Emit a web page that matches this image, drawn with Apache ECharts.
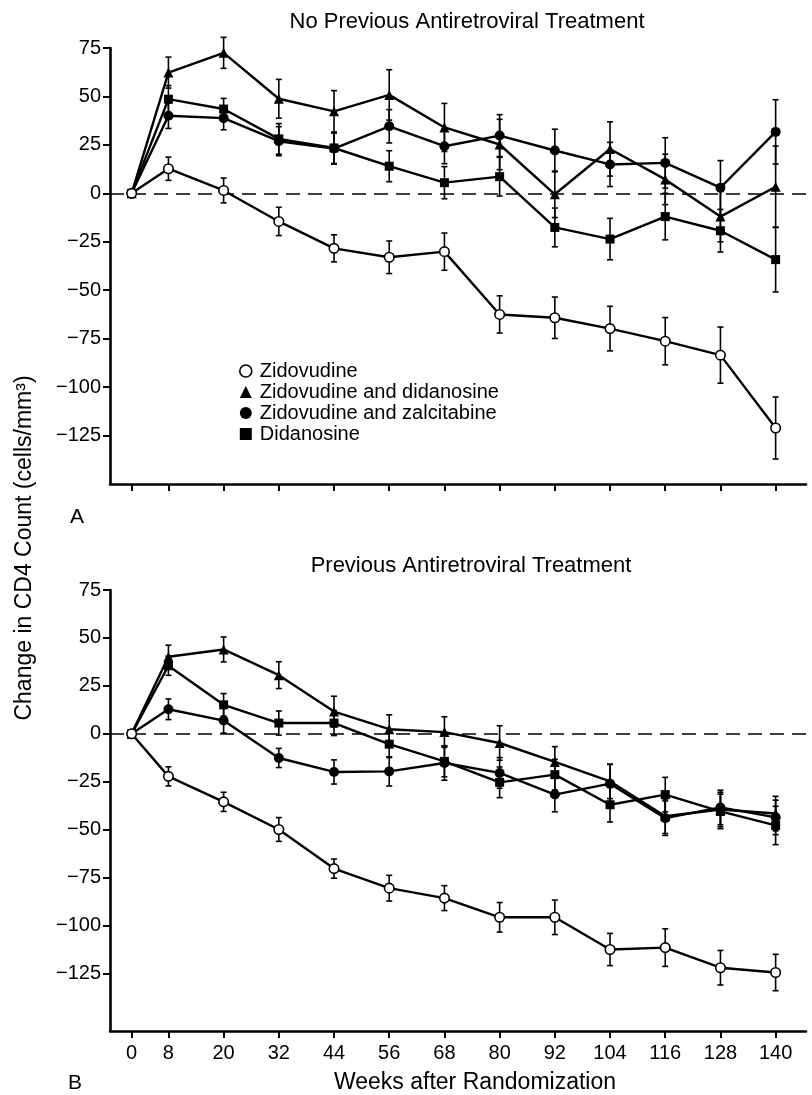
<!DOCTYPE html>
<html>
<head>
<meta charset="utf-8">
<title>CD4 change by treatment</title>
<script src="https://cdn.jsdelivr.net/npm/echarts@6/dist/echarts.min.js"></script>
<style>
  html, body { margin: 0; padding: 0; background: #fff; }
  #chart { width: 812px; height: 1095px; }
</style>
</head>
<body>
<div id="chart"></div>
<script>
// weeks after randomization
const weeks = [0, 8, 20, 32, 44, 56, 68, 80, 92, 104, 116, 128, 140];
const yTicks = [75, 50, 25, 0, -25, -50, -75, -100, -125];

// panel A: no previous antiretroviral treatment
const aZdv      = [0, 12.7, 1.5, -14.5, -28.4, -33.0, -30.1, -62.5, -64.2, -69.8, -76.3, -83.5, -121.1];
const aZdvErr   = [0, 6, 6.4, 7.3, 7, 8.4, 9.6, 9.6, 10.7, 11.5, 12.2, 14.5, 16];
const aZdvDdi   = [0, 62.3, 72.5, 48.8, 42.3, 50.8, 34.0, 25.2, -0.5, 22.9, 7.2, -12.0, 3.4];
const aZdvDdiErr= [0, 8, 8, 10, 10.7, 13, 12.4, 13, 12, 14, 13, 13, 21];
const aZdvDdc   = [0, 40.0, 38.8, 26.9, 23.1, 34.6, 24.3, 29.8, 22.1, 14.9, 15.7, 2.9, 31.7];
const aZdvDdcErr= [0, 6.5, 6, 7.5, 8, 8.6, 9, 10.8, 11, 11.4, 13, 14, 16.6];
const aDdi      = [0, 48.6, 43.5, 28.1, 23.4, 14.0, 5.5, 8.6, -17.6, -23.6, -12.0, -19.3, -34.2];
const aDdiErr   = [0, 7, 5.5, 7.9, 8, 8, 8.3, 10, 10, 10.7, 12, 11, 16.7];

// panel B: previous antiretroviral treatment
const bZdv      = [0, -22.2, -35.5, -49.9, -70.3, -80.5, -85.7, -95.7, -95.7, -112.5, -111.5, -122, -124.5];
const bZdvErr   = [0, 5, 5, 6.2, 5, 6.7, 6.5, 7.7, 9, 8.4, 9.8, 9, 9.5];
const bZdvDdi   = [0, 40.2, 44.0, 30.6, 11.6, 2.4, 0.9, -4.8, -14.7, -24.8, -43, -39.5, -41.6];
const bZdvDdiErr= [0, 6, 6.5, 7, 8, 7.5, 8, 9, 8, 9, 9, 9, 9];
const bZdvDdc   = [0, 12.8, 6.9, -12.6, -19.9, -19.6, -15.2, -20.4, -31.7, -26, -44, -38.4, -43.6];
const bZdvDdcErr= [0, 5.4, 6.5, 5, 6.3, 7.6, 9, 8, 9, 10, 9, 9, 9];
const bDdi      = [0, 35.5, 15.1, 5.6, 5.6, -5.4, -14.4, -25.3, -21.3, -37, -31.7, -40.5, -47.8];
const bDdiErr   = [0, 5, 5.9, 6.3, 6.5, 7, 8, 8, 8, 9, 9, 9, 10];

const names = ['Zidovudine', 'Zidovudine and didanosine', 'Zidovudine and zalcitabine', 'Didanosine'];
const font = 'Liberation Sans';

const styles = [
    {symbol: 'circle', symbolSize: 9.5, itemStyle: {color: '#fff', borderColor: '#000', borderWidth: 1.6}},
    {symbol: 'triangle', symbolSize: 10, itemStyle: {color: '#000', borderColor: '#000', borderWidth: 0}},
    {symbol: 'circle', symbolSize: 10, itemStyle: {color: '#000', borderColor: '#000', borderWidth: 0}},
    {symbol: 'rect', symbolSize: 9, itemStyle: {color: '#000', borderColor: '#000', borderWidth: 0}}
];

function errBar(params, api) {
    const x = api.value(0), lo = api.value(1), hi = api.value(2);
    if (hi === lo) return null;
    const t = api.coord([x, hi]), b = api.coord([x, lo]);
    const w = 3;
    const st = {stroke: '#000', lineWidth: 1.6};
    return {
        type: 'group',
        children: [
            {type: 'line', shape: {x1: t[0], y1: t[1], x2: b[0], y2: b[1]}, style: st},
            {type: 'line', shape: {x1: t[0] - w, y1: t[1], x2: t[0] + w, y2: t[1]}, style: st},
            {type: 'line', shape: {x1: b[0] - w, y1: b[1], x2: b[0] + w, y2: b[1]}, style: st}
        ]
    };
}

function panelSeries(idx, vals, errs) {
    const out = [];
    vals.forEach(function (v, k) {
        out.push({
            type: 'custom',
            name: names[k] + ' err',
            xAxisIndex: idx, yAxisIndex: idx,
            renderItem: errBar,
            silent: true,
            z: 3,
            data: weeks.map(function (w, i) { return [w, v[i] - errs[k][i], v[i] + errs[k][i]]; })
        });
    });
    vals.forEach(function (v, k) {
        const s = {
            type: 'line',
            name: names[k],
            xAxisIndex: idx, yAxisIndex: idx,
            data: weeks.map(function (w, i) { return [w, v[i]]; }),
            symbol: styles[k].symbol,
            symbolSize: styles[k].symbolSize,
            itemStyle: styles[k].itemStyle,
            lineStyle: {color: '#000', width: 2.4},
            showAllSymbol: true,
            animation: false,
            z: k === 0 ? 6 : 5
        };
        if (k === 0) {
            s.markLine = {
                silent: true, symbol: 'none', label: {show: false},
                lineStyle: {color: '#000', width: 1.5, type: [14, 8]},
                data: [{yAxis: 0}]
            };
        }
        out.push(s);
    });
    return out;
}

function xAxisOf(idx, showLabels) {
    return {
        type: 'value', gridIndex: idx, min: -4.7, max: 146.6,
        axisLine: {show: true, onZero: false, lineStyle: {color: '#000', width: 2.6}},
        axisTick: {show: true, length: 7, lineStyle: {color: '#000', width: 2}, customValues: weeks},
        axisLabel: {show: showLabels, customValues: weeks, color: '#000', fontSize: 20, fontFamily: font, margin: 12},
        splitLine: {show: false}
    };
}

function yAxisOf(idx, min) {
    return {
        type: 'value', gridIndex: idx, min: min, max: 75,
        axisLine: {show: true, onZero: false, lineStyle: {color: '#000', width: 2.6}},
        axisTick: {show: true, length: 7, lineStyle: {color: '#000', width: 2}, customValues: yTicks},
        axisLabel: {
            customValues: yTicks, color: '#000', fontSize: 20, fontFamily: font, margin: 9,
            formatter: function (v) { return v < 0 ? '\u2212' + Math.abs(v) : String(v); }
        },
        splitLine: {show: false}
    };
}

const chart = echarts.init(document.getElementById('chart'), null, {renderer: 'canvas'});

const option = {
    animation: false,
    backgroundColor: '#fff',
    title: [
        {text: 'No Previous Antiretroviral Treatment', left: 462, top: 6, textAlign: 'center',
         textStyle: {fontSize: 22, fontWeight: 'normal', color: '#000', fontFamily: font}},
        {text: 'Previous Antiretroviral Treatment', left: 466, top: 550, textAlign: 'center',
         textStyle: {fontSize: 22, fontWeight: 'normal', color: '#000', fontFamily: font}}
    ],
    legend: {
        orient: 'vertical', left: 234, top: 356, itemGap: 1,
        itemWidth: 12, itemHeight: 12, selectedMode: false,
        textStyle: {fontSize: 20, lineHeight: 20, color: '#000', fontFamily: font, padding: [0, 0, 0, 3]},
        data: [
            {name: names[0], icon: 'circle', itemStyle: {color: '#fff', borderColor: '#000', borderWidth: 1.6}},
            {name: names[1], icon: 'triangle', itemStyle: {color: '#000', borderWidth: 0}},
            {name: names[2], icon: 'circle', itemStyle: {color: '#000', borderWidth: 0}},
            {name: names[3], icon: 'rect', itemStyle: {color: '#000', borderWidth: 0}}
        ]
    },
    grid: [
        {left: 110, top: 48, width: 696, height: 436},
        {left: 110, top: 590, width: 696, height: 441}
    ],
    xAxis: [xAxisOf(0, false), xAxisOf(1, true)],
    yAxis: [yAxisOf(0, -150), yAxisOf(1, -155)],
    graphic: [
        {type: 'text', x: 25, y: 548, rotation: Math.PI / 2,
         style: {text: 'Change in CD4 Count (cells/mm\u00b3)', font: '23px ' + font, fill: '#000',
                 textAlign: 'center', textVerticalAlign: 'middle'}},
        {type: 'text', x: 77, y: 517,
         style: {text: 'A', font: '21px ' + font, fill: '#000', textAlign: 'center', textVerticalAlign: 'middle'}},
        {type: 'text', x: 75, y: 1083,
         style: {text: 'B', font: '21px ' + font, fill: '#000', textAlign: 'center', textVerticalAlign: 'middle'}},
        {type: 'text', x: 475, y: 1083,
         style: {text: 'Weeks after Randomization', font: '23px ' + font, fill: '#000',
                 textAlign: 'center', textVerticalAlign: 'middle'}}
    ],
    series: panelSeries(0, [aZdv, aZdvDdi, aZdvDdc, aDdi], [aZdvErr, aZdvDdiErr, aZdvDdcErr, aDdiErr])
        .concat(panelSeries(1, [bZdv, bZdvDdi, bZdvDdc, bDdi], [bZdvErr, bZdvDdiErr, bZdvDdcErr, bDdiErr]))
};

chart.setOption(option);
</script>
</body>
</html>
